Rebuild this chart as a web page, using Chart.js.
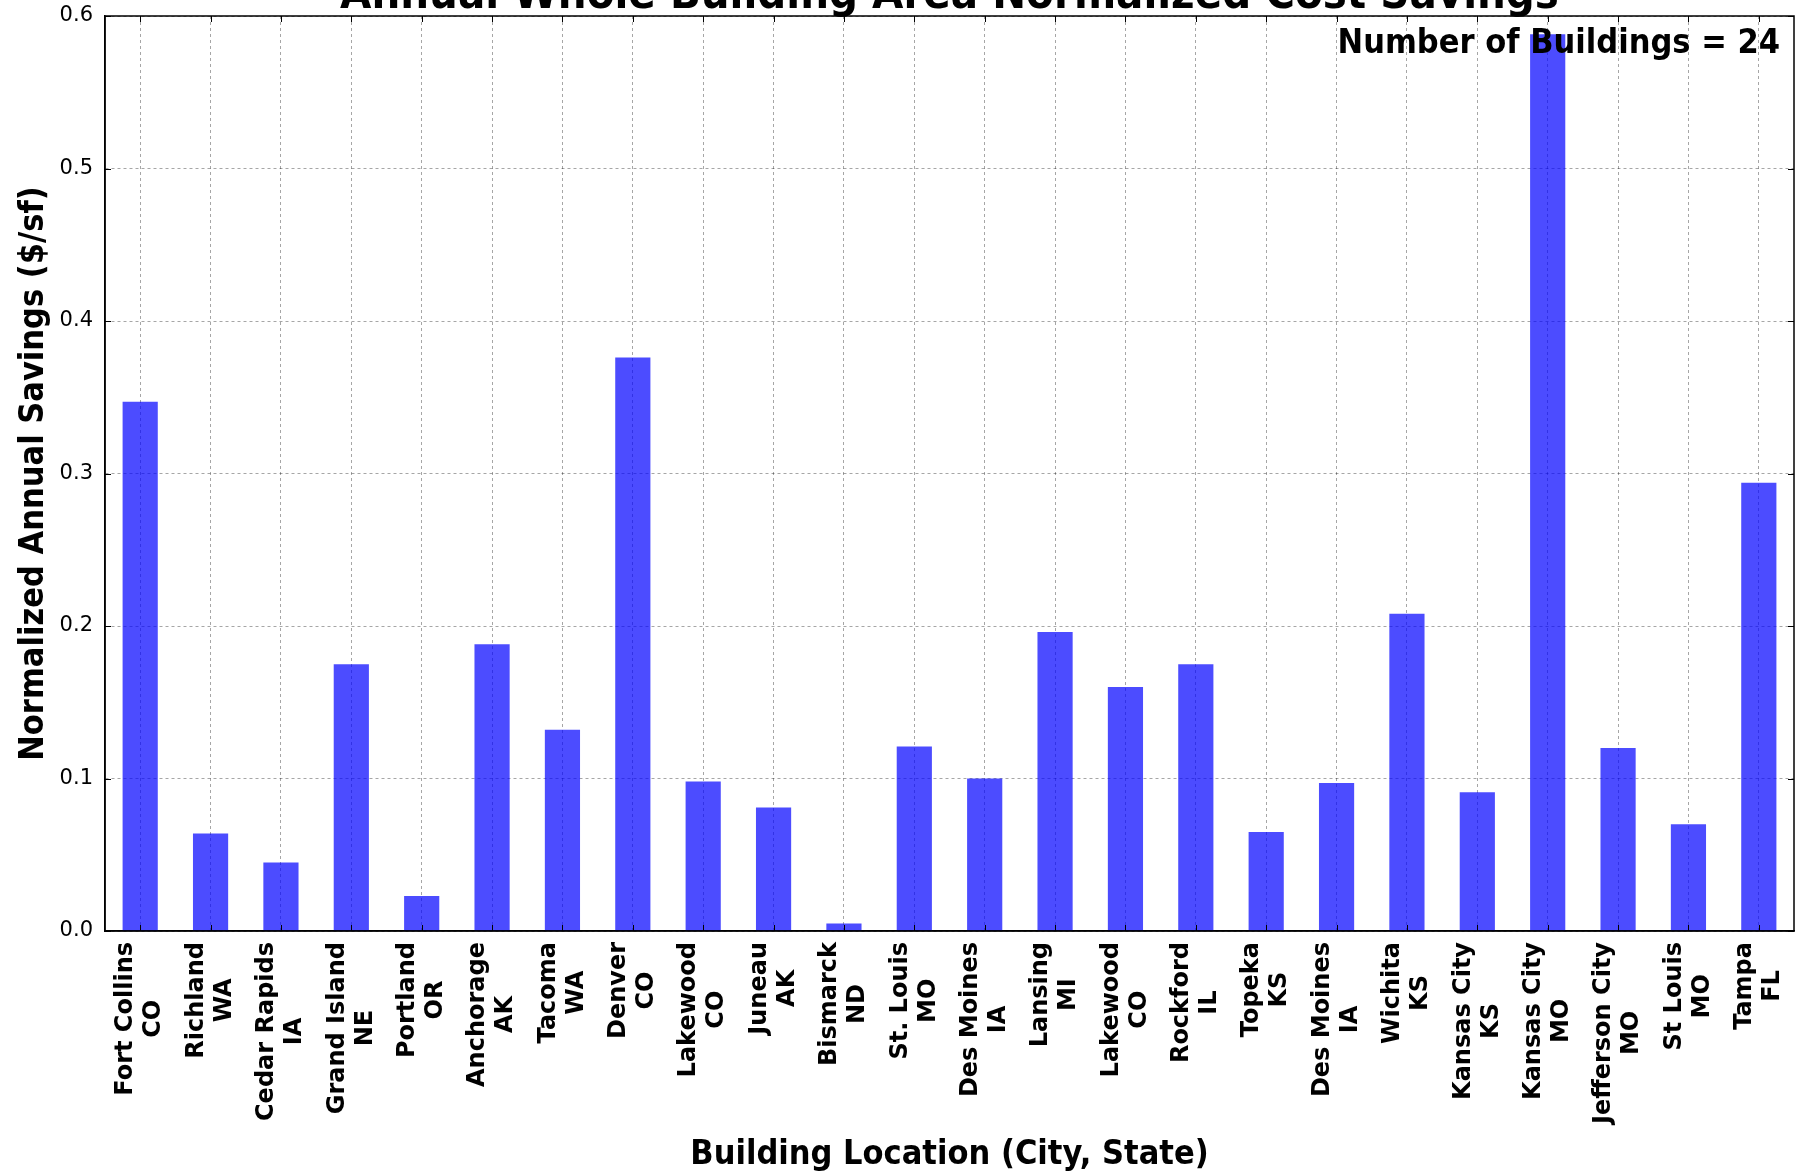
<!DOCTYPE html>
<html>
<head>
<meta charset="utf-8">
<script src="https://cdn.jsdelivr.net/npm/chart.js@4.4.0/dist/chart.umd.min.js"></script>
<style>
  html, body { margin: 0; padding: 0; background: #fff; }
  #wrap { width: 1806px; height: 1171px; }
</style>
</head>
<body>
<div id="wrap"><canvas id="chart" width="1806" height="1171"></canvas></div>
<script>
// building locations (city, state) — one bar each
const cities = [
  'Fort Collins', 'Richland', 'Cedar Rapids', 'Grand Island', 'Portland', 'Anchorage',
  'Tacoma', 'Denver', 'Lakewood', 'Juneau', 'Bismarck', 'St. Louis',
  'Des Moines', 'Lansing', 'Lakewood', 'Rockford', 'Topeka', 'Des Moines',
  'Wichita', 'Kansas City', 'Kansas City', 'Jefferson City', 'St Louis', 'Tampa',
];
const states = [
  'CO', 'WA', 'IA', 'NE', 'OR', 'AK',
  'WA', 'CO', 'CO', 'AK', 'ND', 'MO',
  'IA', 'MI', 'CO', 'IL', 'KS', 'IA',
  'KS', 'KS', 'MO', 'MO', 'MO', 'FL',
];
// normalized annual savings, $/sf
const savings = [
  0.347, 0.064, 0.045, 0.175, 0.023, 0.188,
  0.132, 0.376, 0.098, 0.081, 0.005, 0.121,
  0.100, 0.196, 0.160, 0.175, 0.065, 0.097,
  0.208, 0.091, 0.588, 0.120, 0.070, 0.294,
];
const yMin = 0, yMax = 0.6, yStep = 0.1;

const chartTitle = 'Annual Whole Building Area Normalized Cost Savings';
const note = 'Number of Buildings = ' + cities.length;
const xTitle = 'Building Location (City, State)';
const yTitle = 'Normalized Annual Savings ($/sf)';

const COND = '"DejaVu Sans Condensed", "Liberation Sans Narrow", "DejaVu Sans", sans-serif';
const SANS = '"DejaVu Sans", sans-serif';

const labels = cities.map((c, i) => [c, states[i]]);

// frame, inward ticks, rotated centred x labels, title and note
const decor = {
  id: 'decor',
  afterDraw(chart) {
    const { ctx, chartArea: a, scales: { x, y } } = chart;
    ctx.save();
    ctx.strokeStyle = '#000';
    ctx.lineWidth = 1.5;
    ctx.strokeRect(a.left, a.top, a.right - a.left, a.bottom - a.top);

    ctx.lineWidth = 1;
    ctx.beginPath();
    x.ticks.forEach((t, i) => {
      const px = Math.round(x.getPixelForTick(i)) + 0.5;
      ctx.moveTo(px, a.bottom); ctx.lineTo(px, a.bottom - 6);
      ctx.moveTo(px, a.top); ctx.lineTo(px, a.top + 6);
    });
    y.ticks.forEach((t, i) => {
      const py = Math.round(y.getPixelForTick(i)) + 0.5;
      ctx.moveTo(a.left, py); ctx.lineTo(a.left + 6, py);
      ctx.moveTo(a.right, py); ctx.lineTo(a.right - 6, py);
    });
    ctx.stroke();

    // x labels: rotated, lines centred on each other
    ctx.fillStyle = '#000';
    ctx.font = 'bold 24px ' + SANS;
    ctx.textAlign = 'center';
    ctx.textBaseline = 'middle';
    const lh = 28;
    labels.forEach((lines, i) => {
      const px = x.getPixelForTick(i);
      const w = Math.max(...lines.map(l => ctx.measureText(l).width));
      ctx.save();
      ctx.translate(px, a.bottom + 11 + w / 2);
      ctx.rotate(-Math.PI / 2);
      lines.forEach((l, j) => ctx.fillText(l, 0, (j - (lines.length - 1) / 2) * lh));
      ctx.restore();
    });

    ctx.textBaseline = 'alphabetic';
    ctx.font = 'bold 45px ' + COND;
    ctx.textAlign = 'center';
    ctx.fillText(chartTitle, (a.left + a.right) / 2, 8);

    ctx.font = 'bold 34px ' + COND;
    ctx.textAlign = 'right';
    ctx.fillText(note, a.right - 14, 53);
    ctx.restore();
  }
};

new Chart(document.getElementById('chart'), {
  type: 'bar',
  data: {
    labels: labels,
    datasets: [{
      data: savings,
      backgroundColor: 'rgba(0, 0, 255, 0.7)',
      borderWidth: 0,
      barPercentage: 0.5,
      categoryPercentage: 1.0,
    }],
  },
  options: {
    responsive: false,
    animation: false,
    devicePixelRatio: 1,
    layout: { padding: { top: 16, right: 12, left: 0, bottom: 0 } },
    plugins: { legend: { display: false }, tooltip: { enabled: false }, title: { display: false } },
    scales: {
      x: {
        offset: true,
        grid: { offset: false, drawTicks: false, color: 'rgba(0,0,0,0.35)', lineWidth: 1 },
        border: { display: true, color: '#000', width: 1.5, dash: [3, 3] },
        ticks: { color: 'rgba(0,0,0,0)', maxRotation: 0, minRotation: 0, autoSkip: false },
        title: {
          display: true, text: xTitle, color: '#000',
          font: { family: COND, size: 34, weight: 'bold' }, padding: { top: 0, bottom: -5 },
        },
        afterFit(s) { s.height = 240; s.paddingTop = 0; },
      },
      y: {
        min: yMin, max: yMax,
        grid: { drawTicks: false, color: 'rgba(0,0,0,0.35)', lineWidth: 1 },
        border: { display: true, color: '#000', width: 1.5, dash: [3, 3] },
        ticks: {
          stepSize: yStep, padding: 12, color: '#000',
          font: { family: SANS, size: 21 },
          callback: v => v.toFixed(1),
        },
        title: {
          display: true, text: yTitle, color: '#000',
          font: { family: COND, size: 34, weight: 'bold' }, padding: { top: 14, bottom: 0 },
        },
        afterFit(s) { s.width = 105; s.paddingTop = 0; s.paddingBottom = 0; },
      },
    },
  },
  plugins: [decor],
});
</script>
</body>
</html>
